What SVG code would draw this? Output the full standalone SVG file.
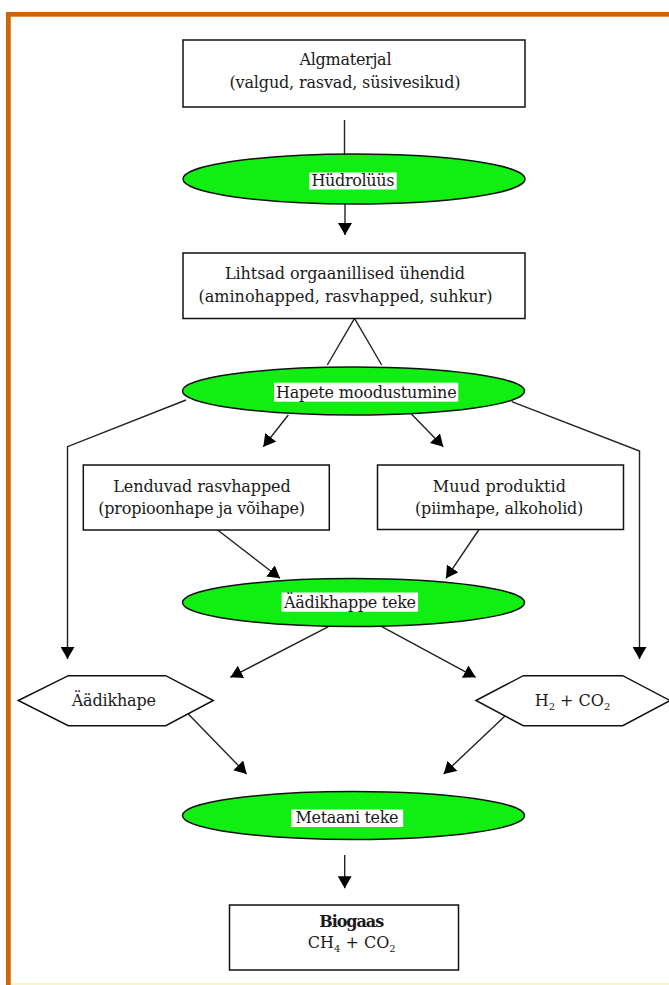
<svg xmlns="http://www.w3.org/2000/svg" width="669" height="985" viewBox="0 0 669 985">
<style>
.t{font-family:"DejaVu Serif","Liberation Serif",serif;font-size:16px;fill:#1a1a1a;text-anchor:middle}
.b{font-weight:bold}
.sub{font-size:10px}
.box{fill:#fff;stroke:#111;stroke-width:1.5}
.ell{fill:#11EE11;stroke:#111;stroke-width:1.5}
.lab{fill:#fff}
.c{fill:none;stroke:#222;stroke-width:1.4}
.a{marker-end:url(#ah)}
</style>
<defs>
<marker id="ah" viewBox="0 0 12 14" refX="12" refY="7" markerWidth="12" markerHeight="14" markerUnits="userSpaceOnUse" orient="auto">
<path d="M0,0 L12,7 L0,14 z" fill="#000"/>
</marker>
</defs>
<rect x="0" y="0" width="669" height="985" fill="#fff"/>
<rect x="10" y="983" width="659" height="2" fill="#FAF4CC"/>
<rect x="6" y="12" width="663" height="4.7" fill="#CC6600"/>
<rect x="6" y="12" width="4.7" height="973" fill="#CC6600"/>

<g id="connectors">
<path class="c" d="M344.5,120 V154"/>
<path class="c a" d="M345,204 V235"/>
<path class="c" d="M327.3,365 L354.5,318.5 L381.7,365"/>
<path class="c a" d="M186,400 L67.5,446.7 V659"/>
<path class="c a" d="M511.7,401.7 L639.5,451 V659"/>
<path class="c a" d="M288.3,415 L263.3,446.7"/>
<path class="c a" d="M410.7,413.3 L443.3,446.7"/>
<path class="c a" d="M217,529.5 L280,578.3"/>
<path class="c a" d="M479,529.5 L446,578.3"/>
<path class="c a" d="M328.5,626.7 L230.4,677.3"/>
<path class="c a" d="M381.8,626.7 L475.7,677.3"/>
<path class="c a" d="M188.3,714 L246.6,774"/>
<path class="c a" d="M505,716 L443.7,774"/>
<path class="c a" d="M344.7,855 V888.3"/>
</g>

<g id="algmaterjal">
<rect class="box" x="183" y="40" width="342" height="67"/>
<text class="t" x="345.5" y="65" textLength="92">Algmaterjal</text>
<text class="t" x="345" y="88" textLength="231">(valgud, rasvad, süsivesikud)</text>
</g>

<g id="hydrolyys">
<ellipse class="ell" cx="354" cy="179" rx="171" ry="25"/>
<rect class="lab" x="309.3" y="172.5" width="87.4" height="17"/>
<text class="t" x="353" y="186" textLength="83">Hüdrolüüs</text>
</g>

<g id="lihtsad">
<rect class="box" x="183" y="253" width="342" height="65.5"/>
<text class="t" x="345" y="279" textLength="240">Lihtsad orgaanillised ühendid</text>
<text class="t" x="345.5" y="302" textLength="294">(aminohapped, rasvhapped, suhkur)</text>
</g>

<g id="hapete">
<ellipse class="ell" cx="353.5" cy="391" rx="171" ry="24"/>
<rect class="lab" x="274" y="382.7" width="184.3" height="19"/>
<text class="t" x="366.3" y="398" textLength="180.7">Hapete moodustumine</text>
</g>

<g id="lenduvad">
<rect class="box" x="83.3" y="465" width="246" height="65"/>
<text class="t" x="202" y="492" textLength="177.3">Lenduvad rasvhapped</text>
<text class="t" x="201.7" y="514" textLength="206.7">(propioonhape ja võihape)</text>
</g>

<g id="muud">
<rect class="box" x="377.5" y="465" width="246" height="64.5"/>
<text class="t" x="499.3" y="492" textLength="133.3">Muud produktid</text>
<text class="t" x="499.2" y="514" textLength="168.3">(piimhape, alkoholid)</text>
</g>

<g id="aadikhappe-teke">
<ellipse class="ell" cx="353.5" cy="602.5" rx="171" ry="24"/>
<rect class="lab" x="281.6" y="592.5" width="136.5" height="19.2"/>
<text class="t" x="350" y="608" textLength="132">Äädikhappe teke</text>
</g>

<g id="aadikhape">
<polygon class="box" points="18.3,700.5 68.3,675.7 165.7,675.7 213.3,700.5 165.7,725.7 68.3,725.7"/>
<text class="t" x="113.8" y="706" textLength="84.3">Äädikhape</text>
</g>

<g id="h2co2">
<polygon class="box" points="476,700.5 523.3,675.7 622.7,675.7 670,700.5 622.7,725.7 523.3,725.7"/>
<text class="t" x="572.5" y="706">H<tspan class="sub" dy="4">2</tspan><tspan dy="-4"> + CO</tspan><tspan class="sub" dy="4">2</tspan></text>
</g>

<g id="metaani-teke">
<ellipse class="ell" cx="353.5" cy="815.5" rx="171" ry="24"/>
<rect class="lab" x="291.4" y="809.5" width="111.8" height="17.5"/>
<text class="t" x="347" y="823" textLength="103">Metaani teke</text>
</g>

<g id="biogaas">
<rect class="box" x="229.5" y="905" width="229" height="65"/>
<text class="t b" x="351.7" y="927" textLength="65">Biogaas</text>
<text class="t" x="351.7" y="948">CH<tspan class="sub" dy="4">4</tspan><tspan dy="-4"> + CO</tspan><tspan class="sub" dy="4">2</tspan></text>
</g>
</svg>
